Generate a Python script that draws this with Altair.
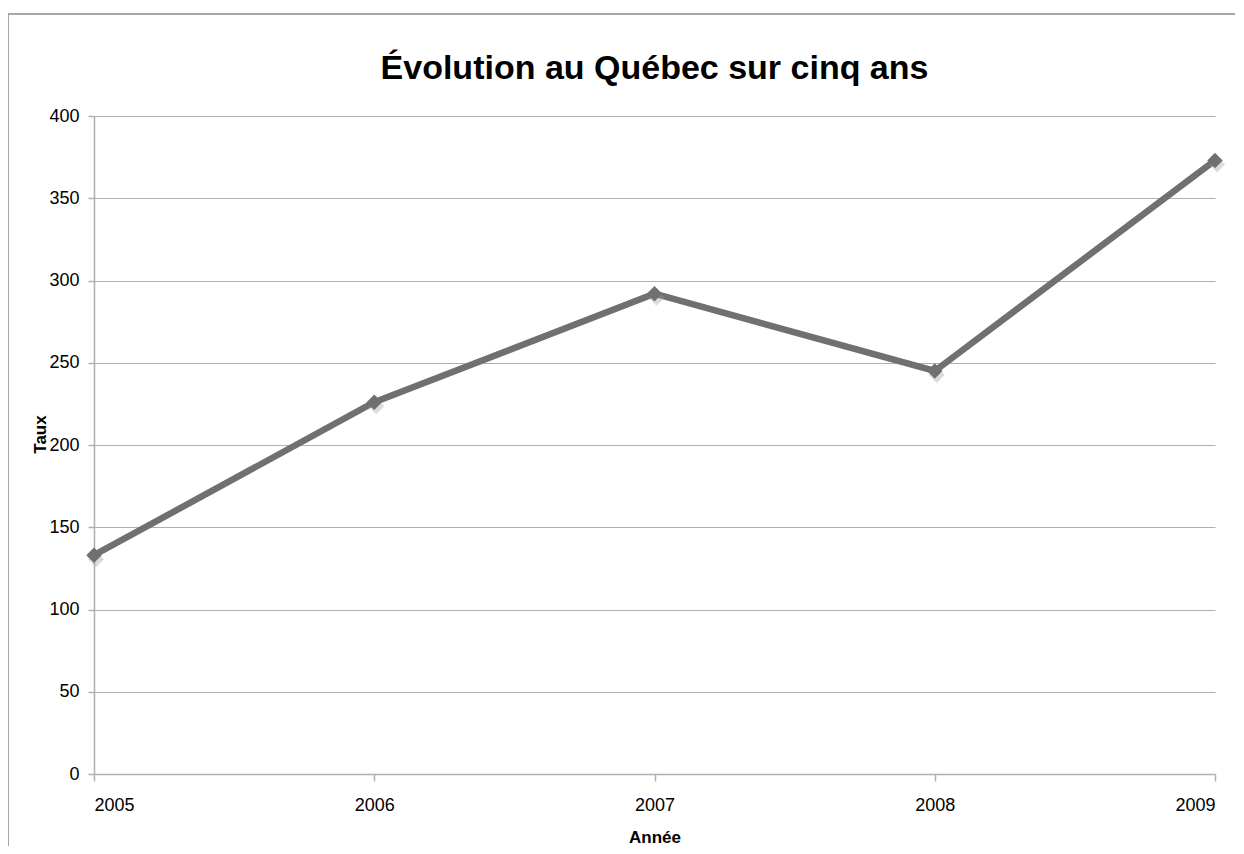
import altair as alt
import pandas as pd

years = [2005, 2006, 2007, 2008, 2009]
taux = [133, 226, 292, 245, 373]

df = pd.DataFrame({"Année": years, "Taux": taux})

FONT = "Liberation Sans"
W, H = 1121, 658

base = alt.Chart(df)

frame = alt.Chart(pd.DataFrame({"k": [0]})).mark_rect(
    fill=None, stroke="#a6a6a6", strokeWidth=2
).encode(
    x=alt.value(-86), x2=alt.value(W + 60),
    y=alt.value(-102), y2=alt.value(H + 120),
)

x_enc = alt.X(
    "Année:Q",
    scale=alt.Scale(domain=[2005, 2009], nice=False, zero=False),
    axis=alt.Axis(
        values=years, format="d", grid=False, title="Année",
        labelFontSize=18, labelPadding=15, tickSize=7,
        titleFontSize=17, titleFontWeight="bold",
        titleY=63, titleBaseline="middle",
    ),
)
y_enc = alt.Y(
    "Taux:Q",
    scale=alt.Scale(domain=[0, 400], nice=False),
    axis=alt.Axis(
        values=[0, 50, 100, 150, 200, 250, 300, 350, 400],
        grid=True, title="Taux", labelFontSize=18, labelPadding=9, tickSize=6,
        titleFontSize=17, titleFontWeight="bold",
        titleX=-54, titleY=318, titleBaseline="middle", titleAlign="center",
    ),
)

line = base.mark_line(color="#707070", strokeWidth=6.5).encode(x=x_enc, y=y_enc)
shadow = base.mark_point(
    shape="diamond", filled=True, size=260, color="#9a9a9a", opacity=0.35,
    xOffset=2, yOffset=4,
).encode(x="Année:Q", y="Taux:Q")
pts = base.mark_point(
    shape="diamond", filled=True, size=240, color="#707070", opacity=1
).encode(x="Année:Q", y="Taux:Q")

chart = alt.layer(frame, line, shadow, pts).properties(
    width=W, height=H,
    title=alt.TitleParams(
        "Évolution au Québec sur cinq ans", fontSize=34, fontWeight="bold",
        font=FONT, color="#000000", anchor="middle", frame="group",
        offset=-73,
    ),
    padding={"left": 86, "top": 108, "right": 20, "bottom": 72},
    autosize=alt.AutoSizeParams(type="none"),
).configure(
    font=FONT,
).configure_axis(
    labelFont=FONT, titleFont=FONT, labelColor="#000000", titleColor="#000000",
    domainColor="#b0b0b0", tickColor="#b0b0b0", gridColor="#b0b0b0",
    domainWidth=1.5, tickWidth=1.5, gridWidth=1,
).configure_view(stroke=None)

chart.save("out.html", embed_options={"renderer": "svg", "actions": False})
